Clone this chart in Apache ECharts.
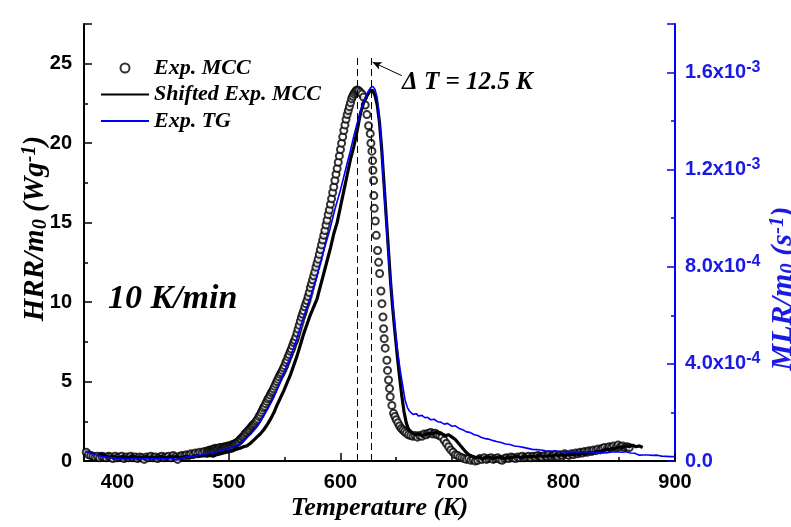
<!DOCTYPE html>
<html>
<head>
<meta charset="utf-8">
<script src="https://cdn.jsdelivr.net/npm/echarts@6.0.0/dist/echarts.min.js"></script>
<style>
html,body{margin:0;padding:0;background:#fff;}
#chart{width:791px;height:527px;}
</style>
</head>
<body>
<div id="chart"></div>
<script>
// ---------- DATA ----------
// Exp. MCC (open circles), HRR/m0 in W/g
const mccBaseStartT = 372, mccBaseStepT = 2;   // 372..478
const mccBaseHRR = [0.55,0.4,0.35,0.3,0.25,0.3,0.2,0.3,0.25,0.2,
  0.3,0.25,0.15,0.3,0.2,0.25,0.3,0.15,0.25,0.2,
  0.3,0.2,0.25,0.15,0.25,0.2,0.1,0.25,0.2,0.3,
  0.2,0.25,0.15,0.25,0.3,0.2,0.25,0.3,0.2,0.35,
  0.25,0.1,0.3,0.35,0.3,0.4,0.35,0.45,0.4,0.5,
  0.45,0.55,0.5,0.6];
const mccRiseStartT = 480, mccRiseStepT = 1;   // 480..615
const mccRiseHRR = [0.55,0.65,0.6,0.7,0.65,0.7,0.75,0.7,0.8,0.75,
  0.75,0.8,0.85,0.75,0.85,0.8,0.9,0.85,0.9,0.95,
  0.9,0.95,1.0,0.95,1.05,1.05,1.1,1.15,1.2,1.25,
  1.35,1.4,1.5,1.55,1.65,1.75,1.8,1.9,1.95,2.05,
  2.15,2.2,2.3,2.35,2.45,2.55,2.65,2.8,2.9,3.05,
  3.2,3.35,3.45,3.6,3.75,3.9,4.0,4.15,4.3,4.4,
  4.55,4.7,4.85,5.0,5.15,5.3,5.45,5.55,5.7,5.85,
  6.0,6.2,6.35,6.55,6.7,6.9,7.05,7.25,7.45,7.6,
  7.8,8.05,8.3,8.55,8.8,9.05,9.25,9.45,9.7,9.9,
  10.1,10.35,10.6,10.9,11.15,11.4,11.65,11.9,12.2,12.45,
  12.7,13.0,13.3,13.6,13.9,14.2,14.5,14.85,15.15,15.5,
  15.8,16.15,16.5,16.9,17.25,17.65,18.05,18.4,18.8,19.2,
  19.6,20.0,20.4,20.8,21.15,21.5,21.8,22.05,22.3,22.55,
  22.8,22.95,23.1,23.2,23.3,23.35];
const mccFallT = [616.3,617.7,619.2,620.7,622.2,623.7,625.2,626.7,627.3,628.2,
  628.8,629.1,629.7,629.9,630.3,631.2,632.1,633.3,634.2,635.1,
  636.3,637.2,638.1,638.7,639.2,640.1,641.6,642.2,643.1,644.0,
  644.6,646.1,647.6,648.8,650.0,651.5,653.0,654.5,656.0,657.5];
const mccFallHRR = [23.3,23.2,23.1,22.9,22.4,21.8,21.1,20.6,20.0,19.5,
  18.9,18.3,17.65,16.7,15.9,15.1,14.2,13.25,12.5,11.8,
  10.7,9.9,9.06,8.33,7.7,7.1,6.34,5.7,5.1,4.57,
  4.04,3.5,3.0,2.8,2.6,2.4,2.2,2.05,1.95,1.85];
const mccTailStartT = 659, mccTailStepT = 2;   // 659..859
const mccTailHRR = [1.75,1.65,1.6,1.55,1.6,1.5,1.6,1.55,1.7,1.65,
  1.75,1.8,1.7,1.75,1.65,1.6,1.5,1.3,1.1,0.9,
  0.7,0.55,0.4,0.35,0.25,0.2,0.15,0.1,0.15,0.05,
  0.1,0.0,0.05,0.15,0.1,0.2,0.1,0.15,0.2,0.1,
  0.15,0.2,0.1,0.05,0.15,0.2,0.15,0.25,0.2,0.15,
  0.25,0.2,0.3,0.2,0.25,0.3,0.2,0.3,0.25,0.35,
  0.3,0.25,0.35,0.3,0.4,0.3,0.35,0.4,0.3,0.4,
  0.35,0.45,0.4,0.35,0.45,0.4,0.5,0.45,0.55,0.5,
  0.6,0.55,0.65,0.6,0.7,0.65,0.75,0.7,0.8,0.85,
  0.75,0.9,0.85,0.95,0.85,1.0,0.9,0.95,0.85,0.9,
  0.85];

// Shifted Exp. MCC (thick black line), HRR/m0 in W/g
const shRiseStartT = 384, shRiseStepT = 3;   // 384..627
const shRiseHRR = [0.5,0.35,0.3,0.25,0.3,0.2,0.25,0.3,0.2,0.25,
  0.3,0.2,0.25,0.2,0.3,0.2,0.25,0.2,0.3,0.25,
  0.2,0.3,0.25,0.3,0.2,0.25,0.3,0.2,0.3,0.35,
  0.3,0.35,0.3,0.35,0.3,0.4,0.45,0.5,0.55,0.6,
  0.65,0.75,0.8,0.9,0.95,1.1,1.3,1.5,1.7,1.95,
  2.25,2.6,3.0,3.5,3.95,4.4,4.9,5.4,6.0,6.6,
  7.3,8.0,8.6,9.2,9.7,10.2,11.0,11.8,12.6,13.4,
  14.3,15.0,16.0,17.0,18.0,19.0,19.8,20.8,21.9,22.6,
  23.0,23.35];
const shFallT = [629,631,633,635,637,639,641,643,645,647,649,651,653,655,657,659,661];
const shFallHRR = [23.3,23.0,22.4,21.3,19.6,17.5,15.4,13.3,11.2,9.5,8.0,6.6,5.3,4.1,3.1,2.4,2.0];
const shTailStartT = 664, shTailStepT = 3;   // 664..871
const shTailHRR = [1.8,1.65,1.7,1.6,1.65,1.75,1.7,1.8,1.75,1.7,
  1.6,1.65,1.5,1.35,1.1,0.85,0.6,0.4,0.3,0.2,
  0.25,0.15,0.2,0.25,0.15,0.2,0.25,0.2,0.15,0.25,
  0.2,0.3,0.25,0.2,0.3,0.25,0.3,0.25,0.35,0.3,
  0.3,0.35,0.3,0.4,0.35,0.4,0.35,0.45,0.4,0.45,
  0.4,0.5,0.45,0.55,0.5,0.6,0.6,0.65,0.75,0.7,
  0.8,0.8,0.9,0.85,0.95,0.9,1.0,0.9,0.95,0.85];

// Exp. TG (blue line), MLR/m0 in units of 1e-4 s^-1
const tgT = [371,375,380,385,390,395,400,405,410,415,
  420,425,430,435,440,445,450,453,456,460,
  465,470,475,480,485,490,495,500,505,510,
  515,520,525,530,535,540,545,550,555,560,
  565,570,575,580,585,590,595,600,605,609,
  612,615,618,621,624,627,629,631,633,636,
  638.5,641.5,644.5,647,649,651,653.5,656,658,660,
  662,665,668,670,673,676,678,681,684,687,
  690,693,696,700,703,706,710,713,716,720,
  723,726,730,733,736,740,744,748,752,756,
  760,764,768,772,776,780,784,788,792,796,
  800,804,808,812,816,820,824,828,832,836,
  840,844,848,852,856,860,864,868,872,876,
  880,884,888,892,896,899];
const tgMLR_e4 = [0.41,0.33,0.26,0.20,0.16,0.13,0.11,0.09,0.08,0.10,
  0.08,0.10,0.09,0.11,0.10,0.09,0.11,0.04,0.12,0.14,
  0.18,0.21,0.26,0.30,0.34,0.39,0.45,0.51,0.60,0.72,
  0.92,1.13,1.40,1.78,2.16,2.60,3.15,3.74,4.27,4.92,
  5.65,6.35,7.02,7.81,8.67,9.45,10.37,11.16,12.08,12.80,
  13.39,13.92,14.40,14.80,15.15,15.38,15.43,15.30,14.95,13.50,
  11.60,9.55,7.50,6.40,5.40,4.60,3.75,3.05,2.50,2.20,
  2.05,1.92,1.95,1.85,1.88,1.78,1.80,1.70,1.72,1.62,
  1.60,1.52,1.55,1.43,1.45,1.35,1.28,1.20,1.18,1.08,
  1.05,0.98,0.92,0.90,0.85,0.80,0.76,0.70,0.68,0.62,
  0.60,0.56,0.52,0.48,0.47,0.45,0.42,0.40,0.42,0.39,
  0.38,0.36,0.38,0.36,0.39,0.37,0.36,0.34,0.36,0.33,
  0.35,0.37,0.38,0.36,0.38,0.33,0.32,0.24,0.25,0.25,
  0.23,0.24,0.20,0.19,0.18,0.18];

// Peak temperatures and annotation
const peakMCC_T = 615, peakShifted_T = 627.5;
const xLabelTicks = [400,500,600,700,800,900];
const xMinorTicks = [450,550,650,750,850];

// ---------- build series data ----------
function uniform(t0, dt, vals){ return vals.map((v,i)=>[t0 + i*dt, v]); }
function paired(ts, vals){ return ts.map((t,i)=>[t, vals[i]]); }
const mccData = [].concat(
  uniform(mccBaseStartT, mccBaseStepT, mccBaseHRR),
  uniform(mccRiseStartT, mccRiseStepT, mccRiseHRR),
  paired(mccFallT, mccFallHRR),
  uniform(mccTailStartT, mccTailStepT, mccTailHRR));
const shData = [].concat(
  uniform(shRiseStartT, shRiseStepT, shRiseHRR),
  paired(shFallT, shFallHRR),
  uniform(shTailStartT, shTailStepT, shTailHRR));
const tgData = tgT.map((t,i)=>[t, tgMLR_e4[i]*1e-4]);

const BLUE = '#0000ff';
const BLUE_TXT = '#1a1ae6';
const SERIF = '"Liberation Serif","Times New Roman",serif';
const SANS = '"Liberation Sans",Arial,sans-serif';

function sci(v){
  if (Math.abs(v) < 1e-12) return '0.0';
  const s = v.toExponential(1).split('e');
  return s[0] + 'x10{sup|' + Number(s[1]) + '}';
}
function titleRich(color, fs){
  return {
    sub: {fontFamily: SERIF, fontStyle: 'italic', fontWeight: 'bold', fontSize: fs, color: color, padding: [10, 0, 0, 0]},
    sup: {fontFamily: SERIF, fontStyle: 'italic', fontWeight: 'bold', fontSize: fs, color: color, padding: [0, 0, 12, 0]}
  };
}

const chart = echarts.init(document.getElementById('chart'), null, {renderer:'canvas'});
chart.setOption({
  animation: false,
  backgroundColor: '#ffffff',
  grid: {left: 84, right: 116, top: 24, bottom: 66, containLabel: false, outerBoundsMode: 'none'},
  legend: {
    orient: 'vertical', left: 100, top: 56, padding: 0,
    itemWidth: 48, itemHeight: 9, itemGap: 2.5,
    textStyle: {fontFamily: SERIF, fontStyle: 'italic', fontWeight: 'bold', fontSize: 22, color: '#000', lineHeight: 24},
    data: [
      {name: 'Exp. MCC'},
      {name: 'Shifted Exp. MCC', itemStyle: {color: 'rgba(0,0,0,0)', borderWidth: 0, opacity: 0}},
      {name: 'Exp. TG', itemStyle: {color: 'rgba(0,0,0,0)', borderWidth: 0, opacity: 0}}
    ]
  },
  xAxis: [{
    type: 'value', min: 370, max: 900, position: 'bottom',
    axisLine: {show: true, onZero: false, lineStyle: {color: '#000', width: 2}},
    axisTick: {show: true, inside: true, length: 8, customValues: xLabelTicks, lineStyle: {color: '#000', width: 1.5}},
    axisLabel: {customValues: xLabelTicks, margin: 11, fontFamily: SANS, fontWeight: 'bold', fontSize: 20, color: '#000'},
    splitLine: {show: false},
    name: 'Temperature (K)', nameLocation: 'middle', nameGap: 34, nameMoveOverlap: false,
    nameTextStyle: {fontFamily: SERIF, fontStyle: 'italic', fontWeight: 'bold', fontSize: 26, color: '#000'}
  }, {
    type: 'value', min: 370, max: 900, position: 'bottom',
    axisLine: {show: false},
    axisTick: {show: true, inside: true, length: 4, customValues: xMinorTicks, lineStyle: {color: '#000', width: 1.5}},
    axisLabel: {show: false}, splitLine: {show: false}
  }],
  yAxis: [{
    type: 'value', min: 0, max: 27.5, interval: 5, position: 'left',
    axisLine: {show: true, onZero: false, lineStyle: {color: '#000', width: 2}},
    axisTick: {show: true, inside: true, length: 8, lineStyle: {color: '#000', width: 1.5}},
    minorTick: {show: true, splitNumber: 2, length: 4, lineStyle: {color: '#000', width: 1.5}},
    axisLabel: {showMaxLabel: false, margin: 12, fontFamily: SANS, fontWeight: 'bold', fontSize: 20, color: '#000'},
    splitLine: {show: false},
    name: 'HRR/m{sub|0} (Wg{sup|-1})', nameLocation: 'middle', nameRotate: 90, nameGap: 32, nameMoveOverlap: false,
    nameTextStyle: {fontFamily: SERIF, fontStyle: 'italic', fontWeight: 'bold', fontSize: 29, color: '#000',
      padding: [0, 0, 0, 28], rich: titleRich('#000', 20)}
  }, {
    type: 'value', min: 0, max: 0.0018, interval: 0.0004, position: 'right',
    axisLine: {show: true, onZero: false, lineStyle: {color: BLUE, width: 2}},
    axisTick: {show: true, inside: true, length: 8, lineStyle: {color: BLUE, width: 1.5}},
    minorTick: {show: true, splitNumber: 2, length: 4, lineStyle: {color: BLUE, width: 1.5}},
    axisLabel: {showMaxLabel: false, margin: 10, fontFamily: SANS, fontWeight: 'bold', fontSize: 20, color: BLUE_TXT,
      formatter: sci,
      rich: {sup: {fontFamily: SANS, fontWeight: 'bold', fontSize: 16, color: BLUE_TXT, padding: [0, 0, 10, 0]}}},
    splitLine: {show: false},
    name: 'MLR/m{sub|0} (s{sup|-1})', nameLocation: 'middle', nameRotate: 90, nameGap: 92, nameMoveOverlap: false,
    nameTextStyle: {fontFamily: SERIF, fontStyle: 'italic', fontWeight: 'bold', fontSize: 30, color: BLUE_TXT,
      padding: [0, 92, 0, 0], rich: titleRich(BLUE_TXT, 21)}
  }],
  graphic: [
    {type: 'text', left: 108, top: 282, z: 10,
      style: {text: '10 K/min', font: 'italic bold 34px "Liberation Serif"', fill: '#000'}},
    {type: 'text', left: 402, top: 70, z: 10,
      style: {text: 'Δ T = 12.5 K', font: 'italic bold 25px "Liberation Serif"', fill: '#000'}}
  ],
  series: [{
    name: 'Exp. MCC', type: 'scatter', xAxisIndex: 0, yAxisIndex: 0,
    symbol: 'emptyCircle', symbolSize: 7,
    itemStyle: {color: '#000', borderColor: '#000', borderWidth: 1.4},
    data: mccData, z: 2
  }, {
    name: 'Shifted Exp. MCC', type: 'line', xAxisIndex: 0, yAxisIndex: 0,
    symbol: 'none', showSymbol: false,
    lineStyle: {color: '#000', width: 3.2}, itemStyle: {color: '#000'},
    data: shData, z: 3,
    markLine: {
      silent: true, symbol: ['none', 'none'], label: {show: false},
      lineStyle: {color: '#000', width: 1, type: [7, 4]},
      data: [
        [{coord: [peakMCC_T, 0]}, {coord: [peakMCC_T, 25.5]}],
        [{coord: [peakShifted_T, 0]}, {coord: [peakShifted_T, 25.5]}],
        [{coord: [655, 24.25], symbol: 'none', lineStyle: {type: 'solid', width: 1, color: '#000'}},
         {coord: [628.8, 25.1], symbol: 'arrow', symbolSize: [6, 9]}]
      ]
    }
  }, {
    name: 'Exp. TG', type: 'line', xAxisIndex: 0, yAxisIndex: 1,
    symbol: 'none', showSymbol: false,
    lineStyle: {color: BLUE, width: 1.6}, itemStyle: {color: BLUE},
    data: tgData, z: 4
  }]
});
</script>
</body>
</html>
